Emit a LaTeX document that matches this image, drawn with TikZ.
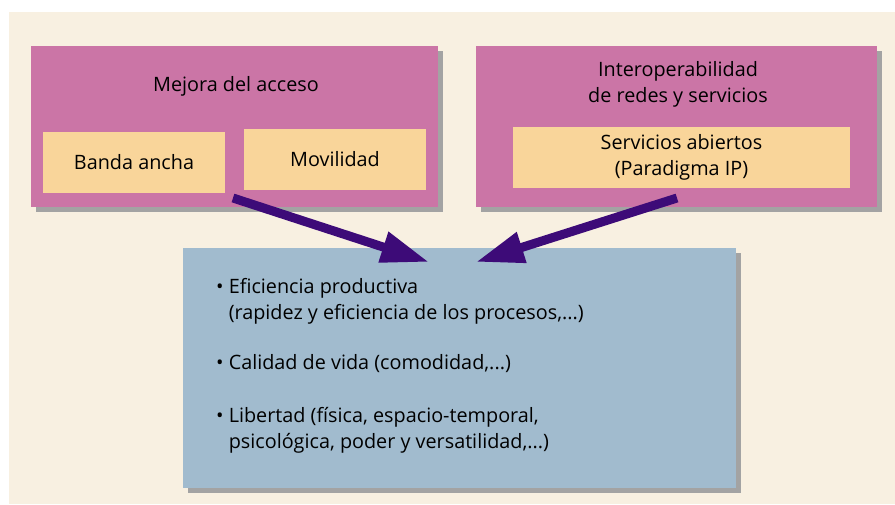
\documentclass[tikz,border=0pt]{standalone}
\usepackage{fontspec}
\setmainfont{Open Sans}
\usetikzlibrary{arrows.meta,shadows}
\definecolor{bgcream}{HTML}{F8F0E1}
\definecolor{boxpink}{HTML}{CB75A6}
\definecolor{boxpeach}{HTML}{F9D59A}
\definecolor{boxblue}{HTML}{A1BBCE}
\definecolor{arrowviolet}{HTML}{3D0B78}
\definecolor{shadowgray}{HTML}{A3A3A3}
\begin{document}
\begin{tikzpicture}[x=1pt,y=-1pt,
  font=\fontsize{19.8}{26}\selectfont,
  boxshadow/.style={drop shadow={shadow xshift=5pt,shadow yshift=-5pt,fill=shadowgray,opacity=1}},
  outer/.style={fill=boxpink,boxshadow,inner sep=0pt},
  inner/.style={fill=boxpeach,inner sep=0pt,align=center},
  result/.style={fill=boxblue,boxshadow,inner sep=0pt},
  push/.style={line width=9pt,arrowviolet,-{Triangle[length=48pt,width=30pt]}}]
\useasboundingbox (0,0) rectangle (895,504);
\fill[white] (0,0) rectangle (895,504);
\fill[bgcream] (9,12) rectangle (895,504);

\node[outer,minimum width=407,minimum height=161] (acceso) at (234.5,126.5) {};
\node[anchor=base] (accesotxt) at (236,91) {Mejora del acceso};
\node[inner,minimum width=182,minimum height=61] (banda) at (134,162.5) {Banda ancha};
\node[inner,minimum width=182,minimum height=61] (movilidad) at (335,159.5) {Movilidad};

\node[outer,minimum width=401,minimum height=161] (redes) at (676.5,126.5) {};
\node[align=center] (redestxt) at (678,84) {Interoperabilidad\\de redes y servicios};
\node[inner,minimum width=337,minimum height=61] (abiertos) at (681.5,157.5) {Servicios abiertos\\(Paradigma IP)};

\node[result,minimum width=553,minimum height=240] (ventajas) at (459.5,368) {};
\node[anchor=north west,align=left,inner sep=0pt] (lista) at (216,278) {%
\textbullet\ Eficiencia productiva\\
\hphantom{\textbullet\ }(rapidez y eficiencia de los procesos,...)\\[24pt]
\textbullet\ Calidad de vida (comodidad,...)\\[27pt]
\textbullet\ Libertad (física, espacio-temporal,\\
\hphantom{\textbullet\ }psicológica, poder y versatilidad,...)};

\coordinate (fromacceso) at (233,198);
\coordinate (toleft) at (429,262);
\coordinate (fromredes) at (677,198);
\coordinate (toright) at (476,262);
\draw[push] (fromacceso) -- (toleft);
\draw[push] (fromredes) -- (toright);

\end{tikzpicture}
\end{document}
